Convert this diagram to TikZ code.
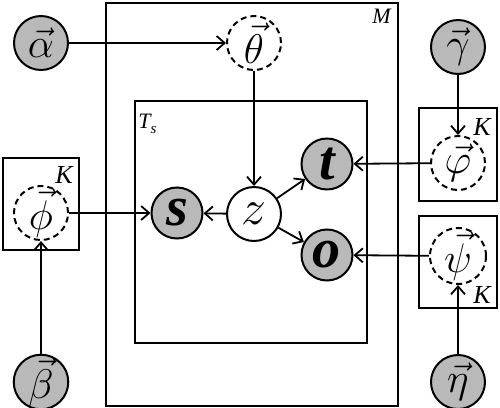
\documentclass[tikz,border=0pt]{standalone}
\usepackage{amsmath}
\usepackage{fontspec}
\setmainfont{Liberation Serif}
\usetikzlibrary{arrows.meta}
\definecolor{obsgray}{RGB}{185,185,185}
\begin{document}
\begin{tikzpicture}[x=0.5pt,y=-0.5pt,
  var/.style={circle,draw,line width=1pt,inner sep=0pt,minimum size=27pt,font=\fontsize{20.5}{24}\selectfont},
  obs/.style={var,fill=obsgray},
  lat/.style={var,dashed,dash pattern=on 3pt off 2pt},
  wobs/.style={obs,minimum size=25.5pt,font=\fontsize{28}{30}\selectfont\bfseries\itshape},
  plate/.style={draw,line width=1pt},
  lbl/.style={inner sep=0pt,font=\fontsize{13}{15}\selectfont\itshape},
  arr/.style={line width=0.9pt,-{Straight Barb[length=4pt,width=7pt]}}]
\useasboundingbox (0,0) rectangle (500,408);
% plates
\draw[plate] (106,3) rectangle (398,406);
\draw[plate] (135,101) rectangle (367,343);
\draw[plate] (3,158) rectangle (79,250);
\draw[plate] (419,108) rectangle (497,201);
\draw[plate] (419,216) rectangle (497,308);
\node[lbl,font=\fontsize{11}{13}\selectfont\itshape,anchor=north east] (lM) at (391,9) {M};
\node[lbl,font=\fontsize{11}{13}\selectfont\itshape,anchor=north west] (lT) at (138,114) {T\raisebox{-2.5pt}{\fontsize{7.5}{8}\selectfont s}};
\node[lbl,anchor=north east] (lK1) at (73,166) {K};
\node[lbl,anchor=north east] (lK2) at (491,118) {K};
\node[lbl,anchor=south east] (lK3) at (491,304) {K};
% nodes
\node[obs] (alpha) at (41,43) {$\vec{\alpha}$};
\node[lat] (theta) at (254,43) {$\vec{\theta}$};
\node[obs] (gamma) at (458,47) {$\vec{\gamma}$};
\node[lat] (vphi) at (458,163) {$\vec{\varphi}$};
\node[lat] (phi) at (41,213) {$\vec{\phi}$};
\node[wobs] (s) at (177,213) {s};
\node[var,font=\fontsize{25}{30}\selectfont] (z) at (254,214) {$z$};
\node[wobs] (t) at (327,164) {t};
\node[wobs] (o) at (327,255) {o};
\node[lat] (psi) at (458,256) {$\vec{\psi}$};
\node[obs] (beta) at (41,382) {\raisebox{1pt}{$\vec{\beta}$}};
\node[obs] (eta) at (458,382) {$\vec{\eta}$};
% edges
\draw[arr] (alpha) -- (theta);
\draw[arr] (theta) -- (z);
\draw[arr] (z) -- (s);
\draw[arr] (z) -- (t);
\draw[arr] (z) -- (o);
\draw[arr] (phi) -- (s);
\draw[arr] (vphi) -- (t);
\draw[arr] (psi) -- (o);
\draw[arr] (gamma) -- (vphi);
\draw[arr] (beta) -- (phi);
\draw[arr] (eta) -- (psi);
\end{tikzpicture}
\end{document}
